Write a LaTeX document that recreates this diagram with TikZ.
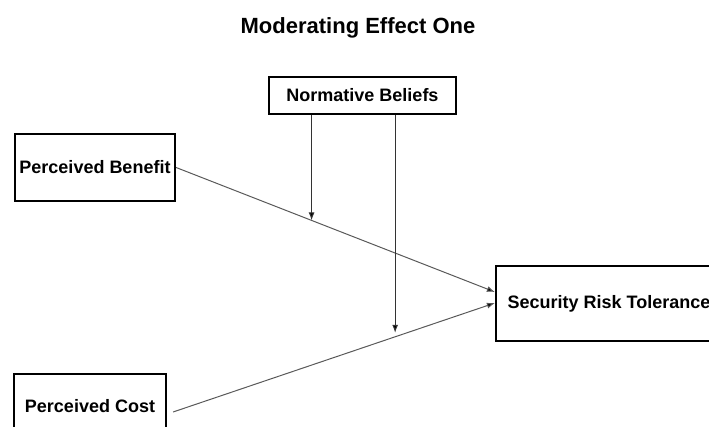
\documentclass[tikz,border=0pt]{standalone}
\usepackage{fontspec}
\setmainfont{Liberation Sans}
\usetikzlibrary{arrows.meta}
\begin{document}
\begin{tikzpicture}[x=1pt, y=-1pt,
    box/.style={draw=black, line width=2.2pt, inner sep=0pt,
      font=\fontsize{18}{20}\selectfont\bfseries},
    link/.style={draw=black!65, line width=1pt},
    modarrow/.style={draw=black!80, line width=1pt, -{Latex[length=8pt,width=6pt,fill=black]}},
    tip/.style={-{Latex[length=8pt,width=6pt,fill=black]}}]
    \clip (0,0) rectangle (709,427);

    % title
    \node[font=\fontsize{22}{24}\selectfont\bfseries] (title) at (358, 28) {Moderating Effect One};

    % constructs
    \node[box, minimum width=187pt, minimum height=37pt] (nb) at (362.5, 95.5) {Normative Beliefs};
    \node[box, minimum width=160pt, minimum height=67pt] (pb) at (95, 167.5) {Perceived Benefit};
    \node[box, minimum width=226pt, minimum height=75pt] (srt) at (609, 303.5) {Security Risk Tolerance};
    \node[box, minimum width=152pt, minimum height=64pt] (pc) at (90, 406) {Perceived Cost};

    % direct paths
    \draw[link, tip] (pb.east) -- coordinate[pos=0.425] (m1) ([yshift=11.5pt]srt.west);
    \draw[link, tip] ([xshift=6pt, yshift=-6pt]pc.east) -- coordinate[pos=0.69] (m2) ([yshift=0.5pt]srt.west);

    % moderating paths
    \draw[modarrow] (nb.south -| m1) -- (m1);
    \draw[modarrow] (nb.south -| m2) -- ([yshift=4pt]m2);
\end{tikzpicture}
\end{document}
